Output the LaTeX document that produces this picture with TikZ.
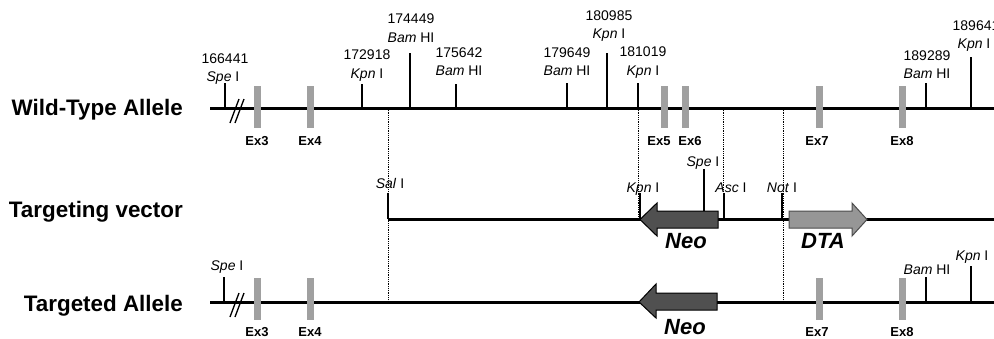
\documentclass[tikz,border=0pt]{standalone}
\usepackage{fontspec}
\setmainfont{Liberation Sans}
\definecolor{exgray}{RGB}{160,160,160}
\definecolor{neogray}{RGB}{80,80,80}
\definecolor{dtagray}{RGB}{150,150,150}
\tikzset{
 dna/.style={line width=3pt},
 site/.style={line width=1.6pt},
 exon/.style={fill=exgray,draw=none,minimum width=7pt,minimum height=42pt,inner sep=0pt},
 guide/.style={densely dotted,line width=0.8pt},
 brk/.style={line width=1.3pt},
 lbl/.style={font=\fontsize{14}{14}\selectfont,inner sep=0pt,anchor=base},
 exl/.style={font=\bfseries\fontsize{13}{13}\selectfont,inner sep=0pt,anchor=base},
 rowl/.style={font=\bfseries\fontsize{22.4}{23}\selectfont,inner sep=0pt,anchor=base east},
 gene/.style={font=\bfseries\itshape\fontsize{22}{22}\selectfont,inner sep=0pt,anchor=base},
 neoarrow/.style={fill=neogray,draw=black,line width=1pt},
 dtaarrow/.style={fill=dtagray,draw=black!70,line width=1pt},
}
\begin{document}
\begin{tikzpicture}[x=1pt,y=-1pt]
\clip (0,0) rectangle (994,338);
\fill[white] (0,0) rectangle (994,338);
% row labels
\node[rowl] (rw) at (183,115) {Wild-Type Allele};
\node[rowl] (rv) at (183,217) {Targeting vector};
\node[rowl] (rt) at (183,311) {Targeted Allele};
% guide lines
\coordinate (g1a) at (388,108); \coordinate (g1b) at (388,302);
\coordinate (g2a) at (638,108); \coordinate (g2b) at (638,219);
\coordinate (g3a) at (723,108); \coordinate (g3b) at (723,219);
\coordinate (g4a) at (783,108); \coordinate (g4b) at (783,302);
\draw[guide] (g1a) -- (g1b);
\draw[guide] (g2a) -- (g2b);
\draw[guide] (g3a) -- (g3b);
\draw[guide] (g4a) -- (g4b);
% ---------- wild-type allele ----------
\coordinate (wL) at (210,108); \coordinate (wR) at (994,108);
\draw[dna] (wL) -- (wR);
\draw[brk] (230,123) -- (239,99);
\draw[brk] (235,123) -- (244,99);
\node[exon] (wex3) at (257.5,106.5) {};
\node[exon] (wex4) at (310.5,106.5) {};
\node[exon] (wex5) at (664,106.5) {};
\node[exon] (wex6) at (685,106.5) {};
\node[exon] (wex7) at (819.5,106.5) {};
\node[exon] (wex8) at (902,106.5) {};
\node[exl] (wex3l) at (257,145) {Ex3};
\node[exl] (wex4l) at (310,145) {Ex4};
\node[exl] (wex5l) at (659,145) {Ex5};
\node[exl] (wex6l) at (690,145) {Ex6};
\node[exl] (wex7l) at (817,145) {Ex7};
\node[exl] (wex8l) at (902,145) {Ex8};
% sites
\coordinate (w1b) at (225,108); \coordinate (w1t) at (225,83);
\coordinate (w2b) at (362,108); \coordinate (w2t) at (362,84);
\coordinate (w3b) at (410,108); \coordinate (w3t) at (410,53);
\coordinate (w4b) at (456,108); \coordinate (w4t) at (456,84);
\coordinate (w5b) at (567,108); \coordinate (w5t) at (567,83);
\coordinate (w6b) at (607,108); \coordinate (w6t) at (607,53);
\coordinate (w7b) at (638,108); \coordinate (w7t) at (638,83);
\coordinate (w8b) at (926,108); \coordinate (w8t) at (926,83);
\coordinate (w9b) at (971,108); \coordinate (w9t) at (971,57);
\foreach \i in {1,...,9} {\draw[site] (w\i b) -- (w\i t);}
\node[lbl] (w1n) at (225,63) {166441};
\node[lbl] (w1e) at (223,81) {\textit{Spe} I};
\node[lbl] (w2n) at (367,59) {172918};
\node[lbl] (w2e) at (367,78) {\textit{Kpn} I};
\node[lbl] (w3n) at (411,23) {174449};
\node[lbl] (w3e) at (411,42) {\textit{Bam} HI};
\node[lbl] (w4n) at (459,57) {175642};
\node[lbl] (w4e) at (459,75) {\textit{Bam} HI};
\node[lbl] (w5n) at (567,57) {179649};
\node[lbl] (w5e) at (567,75) {\textit{Bam} HI};
\node[lbl] (w6n) at (609,20) {180985};
\node[lbl] (w6e) at (609,38) {\textit{Kpn} I};
\node[lbl] (w7n) at (643,56) {181019};
\node[lbl] (w7e) at (643,75) {\textit{Kpn} I};
\node[lbl] (w8n) at (927,60) {189289};
\node[lbl] (w8e) at (927,78) {\textit{Bam} HI};
\node[lbl] (w9n) at (976,30) {189641};
\node[lbl] (w9e) at (974,48) {\textit{Kpn} I};
% ---------- targeting vector ----------
\coordinate (vL) at (388,219); \coordinate (vR) at (994,219);
\coordinate (v1t) at (388,193);
\coordinate (v2b) at (640,219); \coordinate (v2t) at (640,193);
\coordinate (v3b) at (704,219); \coordinate (v3t) at (704,169);
\coordinate (v4b) at (724,219); \coordinate (v4t) at (724,193);
\coordinate (v5b) at (782,219); \coordinate (v5t) at (782,193);
\draw[dna] (vL) -- (vR);
\draw[site] (vL) -- (v1t);
\draw[site] (v2b) -- (v2t);
\draw[site] (v3b) -- (v3t);
\draw[site] (v4b) -- (v4t);
\draw[site] (v5b) -- (v5t);
\node[lbl] (v1e) at (390,188) {\textit{Sal} I};
\node[lbl] (v2e) at (643,192) {\textit{Kpn} I};
\node[lbl] (v3e) at (703,166) {\textit{Spe} I};
\node[lbl] (v4e) at (731,192) {\textit{Asc} I};
\node[lbl] (v5e) at (782,192) {\textit{Not} I};
\draw[neoarrow] (640,219.5) -- (657,203) -- (657,211) -- (718,211) -- (718,228) -- (657,228) -- (657,236) -- cycle;
\draw[site] (v3t) -- (704,211);
\draw[dtaarrow] (867,219.5) -- (852,203) -- (852,211) -- (789,211) -- (789,228) -- (852,228) -- (852,236) -- cycle;
\node[gene] (vneo) at (686,248) {Neo};
\node[gene] (vdta) at (823,248) {DTA};
% ---------- targeted allele ----------
\coordinate (tL) at (210,302); \coordinate (tR) at (994,302);
\draw[dna] (tL) -- (tR);
\draw[brk] (230,317) -- (239,293);
\draw[brk] (235,317) -- (244,293);
\node[exon] (tex3) at (257.5,299) {};
\node[exon] (tex4) at (310.5,299) {};
\node[exon] (tex7) at (819.5,299) {};
\node[exon] (tex8) at (902,299) {};
\node[exl] (tex3l) at (257,336) {Ex3};
\node[exl] (tex4l) at (310,336) {Ex4};
\node[exl] (tex7l) at (817,336) {Ex7};
\node[exl] (tex8l) at (902,336) {Ex8};
\coordinate (t1b) at (224,302); \coordinate (t1t) at (224,277);
\coordinate (t2b) at (926,302); \coordinate (t2t) at (926,277);
\coordinate (t3b) at (971,302); \coordinate (t3t) at (971,266);
\draw[site] (t1b) -- (t1t);
\draw[site] (t2b) -- (t2t);
\draw[site] (t3b) -- (t3t);
\node[lbl] (t1e) at (227,270) {\textit{Spe} I};
\node[lbl] (t2e) at (927,274) {\textit{Bam} HI};
\node[lbl] (t3e) at (972,260) {\textit{Kpn} I};
\draw[neoarrow] (639,302) -- (656,284) -- (656,293) -- (717,293) -- (717,310) -- (656,310) -- (656,318) -- cycle;
\node[gene] (tneo) at (685,334) {Neo};
\end{tikzpicture}
\end{document}
